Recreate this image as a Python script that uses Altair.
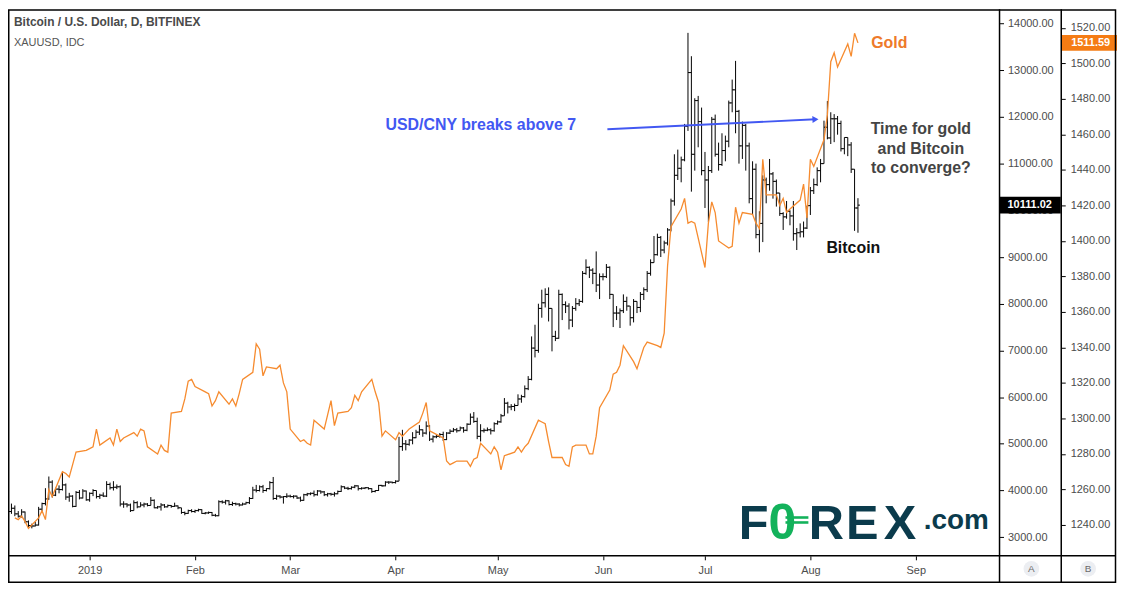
import altair as alt
import pandas as pd

# ---------------- Bitcoin / U.S. Dollar, daily (Bitfinex) ----------------
btc_first_day = "2018-12-08"
btc_first_open = 3480
btc_high = [
    # Dec 8-31 2018
    3620, 3720, 3680, 3560, 3600, 3550, 3360, 3290, 3330, 3650, 3740, 4050, 4300, 4220, 4060, 4110,
    4380, 4150, 3950, 3900, 3990, 4010, 4030, 4000,
    # Jan
    3960, 4030, 4000, 3930, 3960, 4200, 4170, 4200, 4130, 4110, 3770, 3730, 3720, 3790, 3770, 3750,
    3740, 3730, 3860, 3810, 3670, 3730, 3710, 3700, 3690, 3740, 3680, 3630, 3550, 3590, 3600,
    # Feb
    3590, 3610, 3600, 3540, 3550, 3540, 3500, 3790, 3790, 3800, 3790, 3760, 3740, 3730, 3740, 3760,
    3860, 4080, 4120, 4110, 4120, 4050, 4200, 4290, 3910, 3900, 3880, 3940,
    # Mar
    3910, 3900, 3890, 3870, 3930, 3950, 3960, 4000, 4010, 4000, 3990, 3950, 3950, 3970, 4000, 4110,
    4090, 4080, 4090, 4120, 4110, 4070, 4070, 4070, 4050, 4010, 4120, 4120, 4200, 4200, 4190,
    # Apr
    4220, 5150, 5300, 5080, 5100, 5250, 5300, 5400, 5310, 5480, 5400, 5180, 5200, 5230, 5260, 5250,
    5310, 5340, 5340, 5370, 5360, 5440, 5650, 5680, 5560, 5420, 5330, 5350, 5330, 5460,
    # May
    5500, 5640, 5980, 5900, 5850, 5860, 6060, 6050, 6250, 6450, 7300, 7550, 8000, 8300, 8330, 8350,
    7900, 7420, 8300, 8220, 8050, 8010, 7950, 8120, 8100, 8700, 8950, 8800, 8760, 9120, 8650,
    # Jun
    8650, 8850, 8800, 8200, 7950, 7900, 8200, 8150, 7950, 8100, 8050, 8250, 8350, 8700, 8950, 9450,
    9500, 9450, 9350, 9620, 10250, 11200, 11300, 11150, 11850, 13800, 13300, 12400, 12450, 12200,
    # Jul
    11250, 10950, 12000, 12050, 11450, 11650, 11600, 12350, 12800, 13200, 12150, 11900, 11850, 11450,
    11050, 11000, 9980, 10750, 10700, 11100, 10820, 10660, 10370, 9960, 10200, 10000, 10200, 9620,
    9720, 9760, 10100,
    # Aug 1-15
    10500, 10680, 10920, 11100, 11920, 12340, 12100, 12060, 12020, 11920, 11560, 11560, 11460, 10880,
    10260,
]
btc_low = [
    3330, 3500, 3450, 3420, 3420, 3300, 3220, 3190, 3230, 3250, 3540, 3680, 3800, 3850, 3880, 3940,
    4000, 3800, 3760, 3640, 3650, 3810, 3830, 3780,
    3760, 3880, 3830, 3820, 3860, 3860, 4020, 4000, 4030, 3660, 3630, 3640, 3540, 3570, 3620, 3650,
    3640, 3660, 3680, 3620, 3610, 3570, 3630, 3640, 3630, 3650, 3600, 3500, 3470, 3500, 3530,
    3520, 3550, 3500, 3490, 3500, 3450, 3440, 3450, 3720, 3700, 3680, 3670, 3680, 3660, 3680, 3700,
    3710, 3820, 3960, 3980, 3950, 3980, 4020, 3800, 3800, 3830, 3720, 3840,
    3850, 3830, 3820, 3760, 3780, 3880, 3900, 3870, 3890, 3930, 3880, 3870, 3890, 3870, 3920, 3970,
    4030, 4010, 4020, 4050, 4000, 4020, 4030, 4020, 3950, 3960, 3990, 4080, 4090, 4140, 4150,
    4150, 4200, 4850, 4860, 4960, 4990, 5120, 5190, 5150, 5200, 5060, 5030, 5120, 5130, 5060, 5080,
    5210, 5250, 5240, 5280, 5240, 5270, 5410, 5450, 5100, 5050, 5240, 5270, 5200, 5260,
    5410, 5450, 5600, 5650, 5720, 5700, 5820, 5880, 5990, 6150, 6360, 6850, 6950, 7700, 7920, 7620,
    6980, 7200, 7250, 7650, 7800, 7450, 7500, 7850, 7950, 8020, 8620, 8550, 8420, 8250, 8100,
    8500, 8550, 8100, 7500, 7650, 7480, 7800, 7850, 7530, 7600, 7800, 7820, 8080, 8250, 8600, 8880,
    9030, 9000, 9080, 9250, 9550, 10100, 10650, 10600, 11050, 11700, 10400, 10850, 11350, 10750,
    10050, 9750, 10800, 11150, 10850, 10950, 11050, 11350, 12100, 11650, 11000, 11100, 10850, 10150,
    9900, 9400, 9100, 9320, 10150, 10420, 10250, 10080, 9880, 9580, 9820, 9680, 9350, 9150,
    9420, 9420, 9600,
    9900, 10350, 10520, 10600, 11000, 11520, 11420, 11460, 11620, 11260, 11200, 11160, 10800, 9560,
    9520,
]
btc_close = [
    3550, 3620, 3500, 3450, 3540, 3330, 3250, 3240, 3260, 3600, 3720, 3820, 4180, 3900, 4030, 4020,
    4120, 3860, 3880, 3660, 3960, 3840, 3990, 3800,
    3940, 4000, 3870, 3900, 3880, 4130, 4060, 4070, 4080, 3710, 3710, 3690, 3570, 3740, 3650, 3690,
    3710, 3680, 3790, 3630, 3650, 3690, 3650, 3680, 3660, 3670, 3630, 3530, 3510, 3570, 3550,
    3570, 3590, 3510, 3520, 3530, 3470, 3460, 3760, 3750, 3780, 3700, 3720, 3710, 3690, 3710, 3740,
    3830, 4010, 4000, 4080, 4000, 4040, 4170, 3830, 3880, 3860, 3870, 3880,
    3870, 3880, 3840, 3790, 3910, 3930, 3940, 3910, 3990, 3970, 3910, 3930, 3920, 3930, 3980, 4080,
    4050, 4040, 4070, 4100, 4040, 4050, 4060, 4040, 3980, 4000, 4110, 4100, 4180, 4180, 4170,
    4200, 4940, 5000, 4990, 5080, 5130, 5250, 5300, 5230, 5380, 5100, 5150, 5160, 5200, 5090, 5230,
    5270, 5300, 5280, 5340, 5290, 5420, 5570, 5480, 5160, 5280, 5290, 5300, 5280, 5430,
    5470, 5600, 5870, 5790, 5800, 5820, 5960, 6010, 6180, 6380, 7050, 7000, 7900, 8020, 8200, 7900,
    7300, 7260, 8200, 7980, 7950, 7650, 7900, 8000, 8050, 8650, 8780, 8720, 8650, 8400, 8580,
    8580, 8780, 8200, 7800, 7800, 7850, 8050, 7950, 7700, 8050, 7920, 8200, 8300, 8650, 8880, 9050,
    9420, 9150, 9300, 9580, 10200, 10750, 10900, 11080, 11800, 12950, 11200, 12350, 11900, 10850,
    10650, 10850, 11950, 11200, 10980, 11280, 11480, 12300, 12580, 12120, 11380, 11820, 11380, 10250,
    10880, 9480, 9720, 10650, 10550, 10780, 10620, 10370, 9930, 9860, 9980, 9880, 9500, 9520,
    9540, 9620, 10100,
    10420, 10550, 10850, 11000, 11780, 11550, 11960, 11960, 11860, 11320, 11560, 11400, 10880, 10050,
    10111.02,
]

# ---------------- XAUUSD (IDC), weekday closes ----------------
gold_dec_2018 = [1244, 1243, 1245, 1242, 1238, 1244, 1248, 1243, 1260, 1256, 1270, 1269, 1267, 1274,
                 1281, 1282]
gold_jan = [1283, 1284, 1294, 1285, 1289, 1285, 1294, 1287, 1289, 1292, 1290, 1294, 1293, 1284, 1280,
            1285, 1282, 1281, 1303, 1304, 1311, 1321, 1322]
gold_feb = [1318, 1315, 1314, 1307, 1310, 1315, 1308, 1311, 1307, 1314, 1322, 1326, 1342, 1339, 1324,
            1329, 1328, 1330, 1320, 1315]
gold_mar = [1294, 1287, 1288, 1286, 1285, 1299, 1294, 1302, 1310, 1296, 1303, 1304, 1306, 1313, 1310,
            1315, 1322, 1315, 1309, 1290, 1293]
gold_apr = [1288, 1292, 1290, 1292, 1294, 1298, 1303, 1309, 1293, 1292, 1289, 1276, 1274, 1275, 1276,
            1276, 1273, 1277, 1278, 1286, 1280, 1284]
gold_may = [1281, 1271, 1279, 1281, 1284, 1281, 1284, 1286, 1299, 1298, 1297, 1287, 1278, 1278, 1274,
            1273, 1284, 1285, 1285, 1280, 1280, 1290, 1306]
gold_jun = [1316, 1325, 1326, 1330, 1341, 1332, 1328, 1334, 1340, 1343, 1341, 1340, 1348, 1386, 1408,
            1418, 1424, 1410, 1411, 1410]
gold_jul = [1385, 1410, 1422, 1416, 1400, 1396, 1397, 1419, 1410, 1416, 1415, 1410, 1407, 1446, 1426,
            1426, 1420, 1424, 1416, 1418, 1423, 1432, 1413]
gold_aug = [1446, 1442, 1457, 1471, 1501, 1506, 1498, 1511, 1504, 1517, 1511.59]
gold_periods = [
    ("2018-12-10", "2018-12-31", gold_dec_2018), ("2019-01-01", "2019-01-31", gold_jan),
    ("2019-02-01", "2019-02-28", gold_feb), ("2019-03-01", "2019-03-31", gold_mar),
    ("2019-04-01", "2019-04-30", gold_apr), ("2019-05-01", "2019-05-31", gold_may),
    ("2019-06-01", "2019-06-30", gold_jun), ("2019-07-01", "2019-07-31", gold_jul),
    ("2019-08-01", "2019-08-15", gold_aug),
]

month_ticks = [(2019, m) for m in range(1, 10)]
btc_ticks = list(range(3000, 15000, 1000))
gold_ticks = list(range(1240, 1540, 20))

# ---------------- tables ----------------
days = pd.date_range(btc_first_day, periods=len(btc_close), freq="D").strftime("%Y-%m-%d")
btc = pd.DataFrame({
    "date": days,
    "open": [btc_first_open] + btc_close[:-1],
    "high": btc_high, "low": btc_low, "close": btc_close,
})
g_dates, g_vals = [], []
for start, end, vals in gold_periods:
    d = pd.bdate_range(start, end)
    assert len(d) == len(vals), (start, len(d), len(vals))
    g_dates += list(d.strftime("%Y-%m-%d"))
    g_vals += vals
gold = pd.DataFrame({"date": g_dates, "gold": g_vals})

# ---------------- styling ----------------
FONT = "Liberation Sans"
LBL = "#4c4c4c"
ORANGE = "#f68b2f"
BLUE = "#4258f2"

x_scale = alt.Scale(type="utc", domain=[
    alt.DateTime(year=2018, month=12, date=7, hours=23, minutes=43, utc=True),
    alt.DateTime(year=2019, month=9, date=25, hours=15, minutes=21, utc=True)])
x_axis = alt.Axis(
    values=[alt.DateTime(year=y, month=m, date=1, utc=True) for y, m in month_ticks],
    labelExpr="utcFormat(datum.value, '%m') == '01' ? utcFormat(datum.value, '%Y') : utcFormat(datum.value, '%b')",
    title=None, domain=False, grid=False, tickSize=4, tickColor="#000000", labelFont=FONT,
    labelFontSize=11, labelColor=LBL, labelPadding=5, labelFlush=False, labelOverlap=False)
btc_scale = alt.Scale(domain=[2601.4, 14304.8], nice=False, zero=False)
btc_axis = alt.Axis(orient="right", values=btc_ticks, format=".2f", title=None, domain=False,
                    grid=False, tickSize=4, tickColor="#000000", labelPadding=4, labelFont=FONT,
                    labelFontSize=11, labelColor=LBL, labelOverlap=False, labelFlush=False)
gold_scale = alt.Scale(domain=[1222.6, 1530.5], nice=False, zero=False)
gold_axis = alt.Axis(orient="right", offset=62, values=gold_ticks, format=".2f", title=None,
                     domain=False, grid=False, tickSize=4, tickColor="#000000", labelPadding=5,
                     labelFont=FONT, labelFontSize=11, labelColor=LBL, labelOverlap=False,
                     labelFlush=False)


def X(field="date"):
    return alt.X(field, type="temporal", scale=x_scale, axis=x_axis)


def YB(field):
    return alt.Y(field, type="quantitative", scale=btc_scale, axis=btc_axis)


def YG(field):
    return alt.Y(field, type="quantitative", scale=gold_scale, axis=gold_axis)


# ---------------- bitcoin layers ----------------
hl = alt.Chart(btc).mark_rule(color="#000000", strokeWidth=1).encode(
    x=X(), y=YB("low"), y2=alt.Y2("high"))
opens = alt.Chart(btc).mark_rule(color="#000000", strokeWidth=1, xOffset=-2, x2Offset=0).encode(
    x=X(), x2=alt.X2("date"), y=YB("open"))
closes = alt.Chart(btc).mark_rule(color="#000000", strokeWidth=1, xOffset=0, x2Offset=2).encode(
    x=X(), x2=alt.X2("date"), y=YB("close"))

arrow_df = pd.DataFrame({"d1": ["2019-06-02T07:00:00Z"], "d2": ["2019-08-02T12:00:00Z"],
                         "v1": [11735], "v2": [11949]})
arrow = alt.Chart(arrow_df).mark_rule(color=BLUE, strokeWidth=2).encode(
    x=X("d1"), x2=alt.X2("d2"), y=YB("v1"), y2=alt.Y2("v2"))
head = alt.Chart(arrow_df).mark_point(shape="triangle-right", filled=True, size=50, angle=357.3,
                                      color=BLUE, opacity=1).encode(x=X("d2"), y=YB("v2"))

usd_df = pd.DataFrame({"date": ["2019-03-29T00:00:00Z"], "v": [11832],
                       "t": ["USD/CNY breaks above 7"]})
usd_txt = alt.Chart(usd_df).mark_text(align="left", baseline="middle", font=FONT, fontSize=16,
                                      fontWeight="bold", color=BLUE).encode(
    x=X(), y=YB("v"), text="t")

conv_df = pd.DataFrame({"date": ["2019-09-02T12:00:00Z"] * 3, "v": [11746, 11320, 10915],
                        "t": ["Time for gold", "and Bitcoin", "to converge?"]})
conv_txt = alt.Chart(conv_df).mark_text(align="center", baseline="middle", font=FONT, fontSize=16,
                                        fontWeight="bold", color="#444444").encode(
    x=X(), y=YB("v"), text="t")

btc_lbl_df = pd.DataFrame({"date": ["2019-08-05T17:00:00Z"], "v": [9188], "t": ["Bitcoin"]})
btc_lbl = alt.Chart(btc_lbl_df).mark_text(align="left", baseline="middle", font=FONT, fontSize=16,
                                          fontWeight="bold", color="#111111").encode(
    x=X(), y=YB("v"), text="t")

last_btc = pd.DataFrame({"v": [btc_close[-1]], "t": [f"{btc_close[-1]:.2f}"]})
btc_box = alt.Chart(last_btc).mark_rect(color="#000000", yOffset=-8.5, y2Offset=8.5).encode(
    x=alt.value(995.5), x2=alt.value(1057.5), y=YB("v"), y2=alt.Y2("v"))
btc_box_txt = alt.Chart(last_btc).mark_text(align="left", baseline="middle", font=FONT,
                                            fontSize=11, fontWeight="bold", color="#ffffff").encode(
    x=alt.value(1004), y=YB("v"), text="t")

btc_group = alt.layer(hl, opens, closes, arrow, head, usd_txt, conv_txt, btc_lbl, btc_box,
                      btc_box_txt)

# ---------------- gold layers ----------------
gold_line = alt.Chart(gold).mark_line(color=ORANGE, strokeWidth=1.3).encode(x=X(), y=YG("gold"))
gold_lbl_df = pd.DataFrame({"date": ["2019-08-18T21:00:00Z"], "v": [1511.4], "t": ["Gold"]})
gold_lbl = alt.Chart(gold_lbl_df).mark_text(align="left", baseline="middle", font=FONT,
                                            fontSize=16, fontWeight="bold", color="#ee7a2a").encode(
    x=X(), y=YG("v"), text="t")
last_gold = pd.DataFrame({"v": [g_vals[-1]], "t": [f"{g_vals[-1]:.2f}"]})
gold_box = alt.Chart(last_gold).mark_rect(color="#f57c14", yOffset=-8, y2Offset=8).encode(
    x=alt.value(1058), x2=alt.value(1114), y=YG("v"), y2=alt.Y2("v"))
gold_box_txt = alt.Chart(last_gold).mark_text(align="left", baseline="middle", font=FONT,
                                              fontSize=11, fontWeight="bold", color="#ffffff").encode(
    x=alt.value(1068), y=YG("v"), text="t")
gold_group = alt.layer(gold_line, gold_lbl, gold_box, gold_box_txt)

# ---------------- decorations (pixel placed) ----------------
one = pd.DataFrame({"k": [0]})


def ptext(txt, x, y, **kw):
    return alt.Chart(one).mark_text(**kw).encode(x=alt.value(x), y=alt.value(y), text=alt.value(txt))


def prule(x, x2, y, y2, color="#000000", w=1.5):
    return alt.Chart(one).mark_rule(color=color, strokeWidth=w).encode(
        x=alt.value(x), x2=alt.value(x2), y=alt.value(y), y2=alt.value(y2))


TEAL = "#0b3b4c"
GREEN = "#13b25b"
deco = [
    ptext("Bitcoin / U.S. Dollar, D, BITFINEX", 6, 13, align="left", baseline="middle", font=FONT,
          fontSize=12, fontWeight="bold", color="#4a4a4a"),
    ptext("XAUUSD, IDC", 6, 34, align="left", baseline="middle", font=FONT, fontSize=11,
          color="#555555"),
    # FOREX.com logo
    ptext("F", 734, 532, align="left", baseline="alphabetic", font=FONT, fontSize=49,
          fontWeight="bold", color=TEAL),
    ptext("0", 764, 532, align="left", baseline="alphabetic", font=FONT, fontSize=50,
          fontWeight="bold", color=GREEN),
    prule(781, 804, 510.5, 510.5, color=GREEN, w=2.6),
    prule(781, 804, 515.5, 515.5, color=GREEN, w=2.6),
    ptext("R", 822, 532, align="center", baseline="alphabetic", font=FONT, fontSize=49,
          fontWeight="bold", color=TEAL),
    ptext("E", 858, 532, align="center", baseline="alphabetic", font=FONT, fontSize=49,
          fontWeight="bold", color=TEAL),
    ptext("X", 896, 532, align="center", baseline="alphabetic", font=FONT, fontSize=49,
          fontWeight="bold", color=TEAL),
    ptext(".com", 920, 522, align="left", baseline="alphabetic", font=FONT, fontSize=28,
          fontWeight="bold", color=TEAL),
    # frame
    prule(996, 996, 0, 576),
    prule(1058, 1058, 0, 576),
    prule(0, 1113, 549, 549),
    alt.Chart(one).mark_rect(fillOpacity=0, stroke="#000000", strokeWidth=1.5).encode(
        x=alt.value(0.75), x2=alt.value(1112.5), y=alt.value(0.75), y2=alt.value(575.5)),
    # scale buttons
    alt.Chart(one).mark_point(shape="circle", filled=True, size=250, color="#eceef2",
                              opacity=1).encode(x=alt.value(1028), y=alt.value(562)),
    alt.Chart(one).mark_point(shape="circle", filled=True, size=250, color="#eceef2",
                              opacity=1).encode(x=alt.value(1085), y=alt.value(562)),
    ptext("A", 1028, 562.5, align="center", baseline="middle", font=FONT, fontSize=10,
          color="#6a6a6a"),
    ptext("B", 1085, 562.5, align="center", baseline="middle", font=FONT, fontSize=10,
          color="#6a6a6a"),
]
deco_group = alt.layer(*deco)

chart = alt.layer(btc_group, gold_group, deco_group).resolve_scale(y="independent").properties(
    width=996, height=549, autosize="none",
    padding={"left": 0, "top": 0, "right": 118, "bottom": 28},
    background="#ffffff",
).configure_view(strokeWidth=0)

chart.save("out.html", embed_options={"renderer": "svg", "actions": False})
